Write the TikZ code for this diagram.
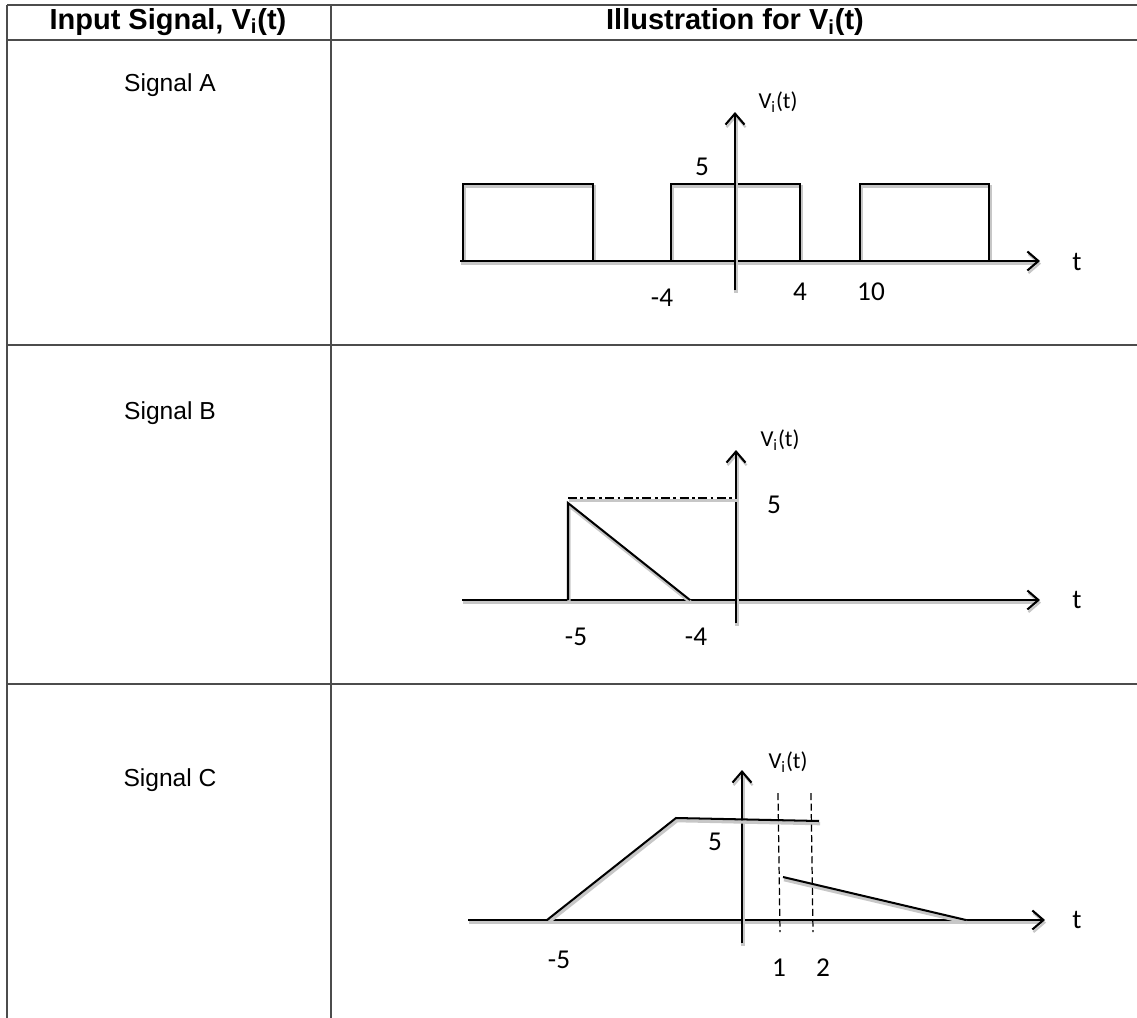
\documentclass[tikz,border=0pt]{standalone}
\usepackage{fontspec}
\setmainfont{Liberation Sans}
\newfontfamily\calfont{Carlito}
\usetikzlibrary{arrows.meta}

\begin{document}
\begin{tikzpicture}[
  x=0.02cm, y=-0.02cm,
  grid/.style    = {draw=black!70, line width=1pt},
  head/.style    = {font=\fontsize{16.5}{19}\selectfont\bfseries, inner sep=0pt},
  rowname/.style = {font=\fontsize{14}{17}\selectfont, inner sep=0pt},
  lbl/.style     = {font=\calfont\fontsize{15.5}{18}\selectfont, inner sep=0pt},
  vlbl/.style    = {font=\calfont\fontsize{13}{15}\selectfont, inner sep=0pt},
  sig/.style     = {line width=1.15pt,
                    preaction={draw=black!22, line width=1.9pt,
                               transform canvas={shift={(0.6pt,-1.5pt)}}}},
  axis/.style    = {sig, -{Straight Barb[length=2.2mm, width=3.8mm, line width=1.2pt]}},
  guide/.style   = {draw=black, line width=0.7pt, dash pattern=on 4pt off 2pt},
  level/.style   = {sig, line width=0.8pt,
                    dash pattern=on 5pt off 2pt on 1.6pt off 2pt},
]
\useasboundingbox (0,0) rectangle (1137,1018);

% ---- table ------------------------------------------------------------------
\foreach \yy in {5, 40, 345, 684}
  \draw[grid] (7,\yy) -- (1137,\yy);
\draw[grid] (7,5) -- (7,1018);
\draw[grid] (331,5) -- (331,1018);

\node[head] (hin)  at (168,22) {Input Signal, V\textsubscript{i}(t)};
\node[head] (hill) at (735,22) {Illustration for V\textsubscript{i}(t)};

\node[rowname] (sA) at (170,85)  {Signal A};
\node[rowname] (sB) at (170,413) {Signal B};
\node[rowname] (sC) at (170,780) {Signal C};

% ---- signal A: pulse train ---------------------------------------------------
\coordinate (aL) at (460,261);  \coordinate (aR) at (1040,261);
\coordinate (aD) at (735,290);  \coordinate (aU) at (735,112);
\foreach \xa/\xb in {463/593, 671/800, 860/989}
  \draw[sig] (\xa,261) rectangle (\xb,184);
\draw[axis] (aL) -- (aR);
\draw[axis] (aD) -- (aU);

\node[vlbl] (avl) at (778,102) {V\textsubscript{i}(t)};
\node[lbl]  (a5)  at (702,167) {5};
\node[lbl]  (am4) at (662,298) {-4};
\node[lbl]  (a4)  at (800,292) {4};
\node[lbl]  (a10) at (871,292) {10};
\node[lbl]  (at)  at (1077,262) {t};

% ---- signal B: falling ramp -------------------------------------------------
\coordinate (bL) at (462,600);  \coordinate (bR) at (1040,600);
\coordinate (bD) at (736,623);  \coordinate (bU) at (736,450);
\coordinate (b0) at (568,600);  \coordinate (bP) at (568,503);
\coordinate (b1) at (690,600);
\draw[axis] (bL) -- (bR);
\draw[axis] (bD) -- (bU);
\draw[sig] (b0) -- (bP) -- (b1);
\draw[level] (568,498) -- (736,498);

\node[vlbl] (bvl) at (780,440) {V\textsubscript{i}(t)};
\node[lbl]  (b5)  at (774,505) {5};
\node[lbl]  (bm5) at (576,637) {-5};
\node[lbl]  (bm4) at (696,637) {-4};
\node[lbl]  (bt)  at (1077,600) {t};

% ---- signal C: ramp, flat top and decay -------------------------------------
\coordinate (cL) at (468,920);  \coordinate (cR) at (1045,920);
\coordinate (cD) at (742,943);  \coordinate (cU) at (742,770);
\draw[axis] (cL) -- (cR);
\draw[axis] (cD) -- (cU);
\draw[sig] (547,920) -- (676,818) -- (819,821);
\draw[sig] (783,877) -- (966,920);
\draw[guide] (778,793) -- (780,932);
\draw[guide] (811,793) -- (813,932);

\node[vlbl] (cvl) at (788,762) {V\textsubscript{i}(t)};
\node[lbl]  (c5)  at (715,842) {5};
\node[lbl]  (cm5) at (559,960) {-5};
\node[lbl]  (c1)  at (779,968) {1};
\node[lbl]  (c2)  at (823,968) {2};
\node[lbl]  (ct)  at (1077,920) {t};

\end{tikzpicture}
\end{document}
